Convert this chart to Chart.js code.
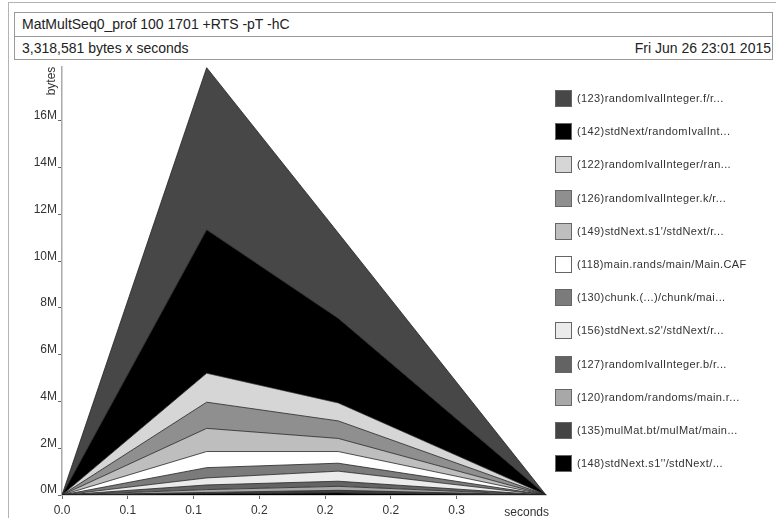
<!DOCTYPE html>
<html>
<head>
<meta charset="utf-8">
<script src="https://cdn.jsdelivr.net/npm/chart.js@4.4.0/dist/chart.umd.min.js"></script>
<style>
  html, body { margin: 0; padding: 0; background: #fff; }
  body { width: 776px; height: 518px; position: relative; overflow: hidden;
         font-family: "Liberation Sans", Arial, sans-serif; color: #222; }
  #frame { position: absolute; left: 8px; top: 2px; width: 770px; height: 540px; border: 1px solid #b4b4b4; }
  #head { position: absolute; left: 14px; top: 12px; width: 757px; height: 46px; border: 1px solid #999; }
  #head .row { position: absolute; left: 0; right: 0; height: 23px; line-height: 23px; font-size: 14px; padding: 0 1px 0 7px; }
  #head .r1 { top: 0; border-bottom: 1px solid #999; }
  #head .r2 { top: 24px; }
  #head .date { position: absolute; right: 1px; top: 0; }
  #chart { position: absolute; left: 0; top: 0; }
  .lg { position: absolute; left: 555px; height: 17px; }
  .lg .sw { position: absolute; left: 0; top: 0; width: 17px; height: 17px; box-sizing: border-box; border: 1px solid #666; }
  .lg .tx { position: absolute; left: 22px; top: 0; line-height: 17px; font-size: 11px; letter-spacing: 0.4px; white-space: nowrap; color: #333; }
</style>
</head>
<body>
<div id="frame"></div>
<div id="head">
  <div class="row r1">MatMultSeq0_prof 100 1701 +RTS -pT -hC</div>
  <div class="row r2">3,318,581 bytes x seconds<span class="date">Fri Jun 26 23:01 2015</span></div>
</div>
<canvas id="chart" width="776" height="518"></canvas>
<div id="legend"></div>
<script>
// sample times (seconds)
const times = [0, 0.110, 0.210, 0.368];

// heap per cost centre in millions of bytes, bottom band first
const cc148 = [0, 0.06, 0.09, 0];
const cc135 = [0, 0.05, 0.11, 0];
const cc120 = [0, 0.12, 0.17, 0];
const cc127 = [0, 0.20, 0.22, 0];
const cc156 = [0, 0.30, 0.43, 0];
const cc130 = [0, 0.44, 0.34, 0];
const cc118 = [0, 0.69, 0.50, 0];
const cc149 = [0, 0.99, 0.56, 0];
const cc126 = [0, 1.12, 0.75, 0];
const cc122 = [0, 1.24, 0.77, 0];
const cc142 = [0, 6.14, 3.62, 0];
const cc123 = [0, 6.93, 3.65, 0];

const bandNames = [
  "(148)stdNext.s1''/stdNext/...",
  "(135)mulMat.bt/mulMat/main...",
  "(120)random/randoms/main.r...",
  "(127)randomIvalInteger.b/r...",
  "(156)stdNext.s2'/stdNext/r...",
  "(130)chunk.(...)/chunk/mai...",
  "(118)main.rands/main/Main.CAF",
  "(149)stdNext.s1'/stdNext/r...",
  "(126)randomIvalInteger.k/r...",
  "(122)randomIvalInteger/ran...",
  "(142)stdNext/randomIvalInt...",
  "(123)randomIvalInteger.f/r..."
];
const bandValues = [cc148, cc135, cc120, cc127, cc156, cc130, cc118, cc149, cc126, cc122, cc142, cc123];
const bandColors = ['#000000', '#444444', '#a8a8a8', '#636363', '#ebebeb', '#7b7b7b',
                    '#ffffff', '#bebebe', '#8f8f8f', '#d6d6d6', '#000000', '#474747'];

const xTicks = [0, 0.05, 0.1, 0.15, 0.2, 0.25, 0.3];
const xTickLabels = ['0.0', '0.1', '0.1', '0.2', '0.2', '0.2', '0.3'];
const yTicks = [0, 2, 4, 6, 8, 10, 12, 14, 16];
const yTickLabels = ['0M', '2M', '4M', '6M', '8M', '10M', '12M', '14M', '16M'];
const yMax = 18.31;

const datasets = bandValues.map((vals, i) => ({
  label: bandNames[i],
  data: vals.map((v, j) => ({ x: times[j], y: v })),
  backgroundColor: bandColors[i],
  borderColor: '#222',
  borderWidth: 0.8,
  fill: i === 0 ? 'origin' : '-1',
  pointRadius: 0,
  tension: 0
}));

// axis captions drawn next to the axes, like hp2ps does
const axisCaptions = {
  id: 'axisCaptions',
  afterDraw(chart) {
    const ctx = chart.ctx;
    const xs = chart.scales.x, ys = chart.scales.y;
    ctx.save();
    ctx.fillStyle = '#333';
    ctx.font = '12px "Liberation Sans", Arial, sans-serif';
    ctx.textAlign = 'right';
    ctx.textBaseline = 'alphabetic';
    ctx.fillText('seconds', xs.right + 3, 516);
    ctx.translate(ys.right - 7.5, ys.top + 14);
    ctx.rotate(-Math.PI / 2);
    ctx.textAlign = 'center';
    ctx.fillText('bytes', 0, 0);
    ctx.restore();
  }
};

const chart = new Chart(document.getElementById('chart').getContext('2d'), {
  type: 'line',
  data: { datasets },
  plugins: [axisCaptions],
  options: {
    responsive: false,
    animation: false,
    layout: { padding: { top: 67, right: 230, bottom: 0, left: 0 } },
    plugins: { legend: { display: false }, tooltip: { enabled: false } },
    scales: {
      x: {
        type: 'linear',
        min: 0,
        max: times[times.length - 1],
        afterBuildTicks: s => { s.ticks = xTicks.map(v => ({ value: v })); },
        afterFit: s => { s.height = 23; },
        grid: { drawOnChartArea: false, drawTicks: true, tickLength: 4, tickColor: '#666' },
        border: { color: '#aaa', width: 1.5 },
        ticks: {
          callback: (v, i) => xTickLabels[i],
          font: { size: 12, family: '"Liberation Sans", Arial, sans-serif' },
          color: '#333', padding: 4, maxRotation: 0, autoSkip: false
        }
      },
      y: {
        stacked: true,
        min: 0,
        max: yMax,
        afterBuildTicks: s => { s.ticks = yTicks.map(v => ({ value: v })); },
        afterFit: s => { s.width = 62; },
        grid: { drawOnChartArea: false, drawTicks: true, tickLength: 4, tickColor: '#666' },
        border: { color: '#aaa', width: 1.5 },
        ticks: {
          callback: (v, i) => yTickLabels[i],
          font: { size: 12, family: '"Liberation Sans", Arial, sans-serif' },
          color: '#333', padding: 1, labelOffset: -5
        }
      }
    }
  }
});

// legend: top band first
const legend = document.getElementById('legend');
chart.data.datasets.slice().reverse().forEach((ds, i) => {
  const row = document.createElement('div');
  row.className = 'lg';
  row.style.top = (90 + i * 33.2) + 'px';
  row.innerHTML = '<div class="sw"></div><div class="tx"></div>';
  row.querySelector('.sw').style.background = ds.backgroundColor;
  row.querySelector('.tx').textContent = ds.label;
  legend.appendChild(row);
});
</script>
</body>
</html>
